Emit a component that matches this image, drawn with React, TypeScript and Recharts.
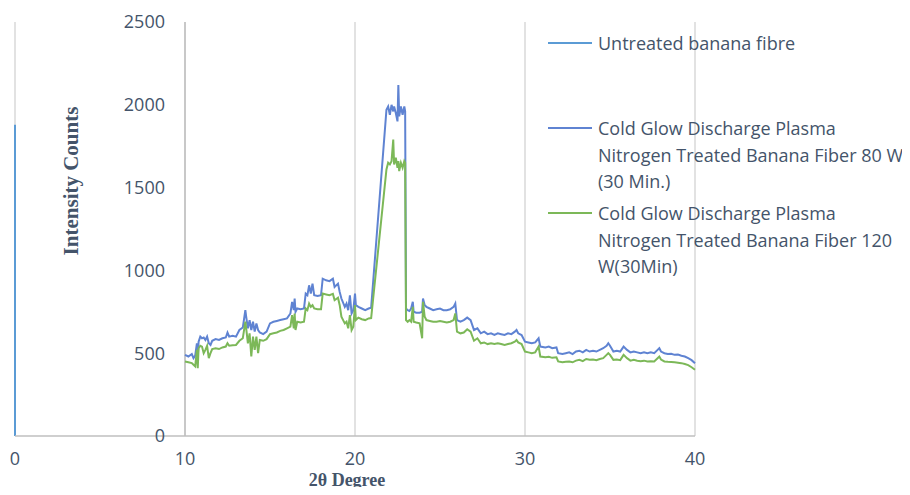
import { LineChart, Line, XAxis, YAxis, CartesianGrid, ReferenceLine } from "recharts";

// 2θ positions shared by the two treated scans
const twoTheta = [
  10.0, 10.2, 10.4, 10.5, 10.6, 10.7, 10.75, 10.8, 10.9, 11.0,
  11.1, 11.2, 11.3, 11.4, 11.5, 11.6, 11.8, 12.0, 12.2, 12.4,
  12.5, 12.6, 12.8, 13.0, 13.2, 13.4, 13.55, 13.6, 13.7, 13.8,
  13.9, 14.0, 14.1, 14.2, 14.3, 14.4, 14.6, 14.8, 15.0, 15.2,
  15.4, 15.6, 15.8, 16.0, 16.2, 16.3, 16.4, 16.45, 16.5, 16.6,
  16.8, 17.0, 17.1, 17.2, 17.3, 17.4, 17.5, 17.6, 17.8, 18.0,
  18.1, 18.3, 18.5, 18.7, 18.8, 19.0, 19.1, 19.2, 19.4, 19.5,
  19.6, 19.7, 19.8, 19.9, 20.0, 20.05, 20.2, 20.4, 20.6, 20.8,
  20.95, 21.85, 21.95, 22.05, 22.15, 22.25, 22.3, 22.4, 22.5, 22.55,
  22.6, 22.7, 22.8, 22.9, 22.95, 23.0, 23.1, 23.2, 23.3, 23.4,
  23.45, 23.6, 23.8, 23.95, 24.0, 24.1, 24.2, 24.4, 24.6, 24.8,
  25.0, 25.2, 25.4, 25.6, 25.8, 25.9, 26.0, 26.2, 26.4, 26.6,
  26.8, 27.0, 27.2, 27.4, 27.6, 27.8, 28.0, 28.2, 28.4, 28.6,
  28.8, 29.0, 29.2, 29.4, 29.5, 29.6, 29.8, 30.0, 30.2, 30.4,
  30.6, 30.8, 30.9, 31.2, 31.4, 31.6, 31.85, 31.95, 32.2, 32.4,
  32.6, 32.8, 33.0, 33.2, 33.4, 33.6, 33.8, 34.0, 34.2, 34.4,
  34.6, 34.8, 34.9, 35.0, 35.2, 35.4, 35.6, 35.8, 36.0, 36.2,
  36.4, 36.6, 36.8, 37.0, 37.2, 37.4, 37.6, 37.8, 37.9, 38.0,
  38.2, 38.4, 38.6, 38.8, 39.0, 39.2, 39.4, 39.6, 39.8, 40.0,
];

const intensity80W = [
  490, 480, 495, 470, 485, 560, 480, 570, 600, 590,
  595, 580, 600, 560, 550, 575, 585, 580, 590, 595,
  625, 600, 605, 600, 640, 655, 760, 720, 650, 700,
  640, 690, 630, 680, 640, 625, 615, 630, 680, 690,
  695, 700, 705, 710, 740, 810, 760, 830, 750, 770,
  765, 770, 860, 850, 910, 860, 920, 850, 845, 850,
  950, 940, 935, 950, 900, 920, 870, 830, 780, 800,
  760, 850, 740, 760, 860, 790, 780, 770, 760, 770,
  775, 1970, 1990, 1940, 2000, 1960, 1990, 1950, 1900, 2120,
  1930, 1990, 1940, 1990, 1960, 770, 760, 755, 770, 810,
  750, 745, 745, 750, 830, 790, 780, 770, 760, 765,
  770, 760, 760, 765, 780, 800, 700, 690, 700, 715,
  700, 640, 650, 620, 630, 615, 620, 610, 620, 615,
  610, 620, 615, 630, 640, 620, 610, 570, 565, 560,
  565, 590, 540, 535, 540, 530, 535, 500, 495, 500,
  505, 495, 510, 515, 505, 520, 510, 515, 510, 520,
  530, 545, 560, 545, 510, 515, 510, 540, 520, 505,
  510, 505, 500, 505, 500, 505, 500, 520, 530, 510,
  500, 495, 497, 490, 492, 485, 480, 470, 458, 440,
];

const intensity120W = [
  450, 445, 440, 430, 420, 520, 410, 530, 545, 540,
  500, 520, 545, 470, 500, 525, 530, 525, 535, 540,
  560, 545, 548, 550, 575, 590, 690, 650, 560, 620,
  480, 600, 520, 600, 500, 580, 575, 585, 615, 620,
  625, 635, 640, 650, 660, 730, 650, 740, 640, 690,
  685, 690, 770, 760, 800, 780, 790, 770, 765, 765,
  860, 855, 850, 858, 820, 835, 790, 720, 680, 690,
  650, 730, 640, 660, 790, 700, 715, 705, 700, 710,
  712, 1610, 1650, 1640, 1660, 1790, 1640, 1680, 1620, 1660,
  1600, 1650, 1620, 1660, 1650, 700, 690, 700, 690, 780,
  690, 685, 680, 590, 810, 720, 700, 695, 690, 690,
  695, 690, 685, 690, 700, 740, 630, 620, 625, 645,
  630, 575, 590, 560, 565, 555, 560, 555, 560, 555,
  550, 555, 560, 570, 580, 565, 555, 510, 505, 500,
  505, 540, 480, 475, 478, 472, 475, 450, 445, 448,
  450, 445, 455, 460, 452, 465, 460, 462, 458, 465,
  470, 490, 500, 490, 460, 462, 458, 490, 470, 455,
  460, 455, 452, 455, 450, 452, 450, 470, 480, 462,
  450, 448, 447, 445, 443, 440, 435, 428, 415, 400,
];

// the untreated scan collapses onto 2θ = 0 in the source chart
const untreatedTheta = [0, 0];
const untreatedIntensity = [1880, 0];

const xTicks = [0, 10, 20, 30, 40];
const yTicks = [0, 500, 1000, 1500, 2000, 2500];

const series = [
  { name: "Untreated banana fibre", lines: ["Untreated banana fibre"], color: "#5b9bd5" },
  {
    name: "Cold Glow Discharge Plasma Nitrogen Treated Banana Fiber 80 W (30 Min.)",
    lines: ["Cold Glow Discharge Plasma", "Nitrogen Treated Banana Fiber 80 W", "(30 Min.)"],
    color: "#5f83d2",
  },
  {
    name: "Cold Glow Discharge Plasma Nitrogen Treated Banana Fiber 120 W(30Min)",
    lines: ["Cold Glow Discharge Plasma", "Nitrogen Treated Banana Fiber 120", "W(30Min)"],
    color: "#7cb858",
  },
];

const untreatedData = untreatedTheta.map((x, i) => ({ x, y: untreatedIntensity[i] }));
const data80 = twoTheta.map((x, i) => ({ x, y: intensity80W[i] }));
const data120 = twoTheta.map((x, i) => ({ x, y: intensity120W[i] }));

const textColor = "#44546a";
const sans = "'Open Sans', sans-serif";
const serif = "'Liberation Serif', 'Times New Roman', serif";

const legendTops = [43, 128, 213];

function YTick(props: any) {
  const { y, payload } = props;
  return (
    <text x={165} y={y} textAnchor="end" dy="0.35em" fill={textColor} fontSize={18} fontFamily={sans}>
      {payload.value}
    </text>
  );
}

export default function App() {
  return (
    <div style={{ margin: -8, position: "relative", width: 910, height: 495, background: "#fff" }}>
      <LineChart width={910} height={495} margin={{ top: 22, right: 215, bottom: 0, left: 5 }}>
        <CartesianGrid horizontal={false} stroke="#d9d9d9" strokeWidth={1.5} />
        <XAxis
          type="number"
          dataKey="x"
          domain={[0, 40]}
          ticks={xTicks}
          height={59}
          axisLine={{ stroke: "#bfbfbf", strokeWidth: 1.5 }}
          tickLine={false}
          tickMargin={10}
          tick={{ fill: textColor, fontSize: 18, fontFamily: sans }}
        />
        <YAxis
          type="number"
          domain={[0, 2500]}
          ticks={yTicks}
          width={10}
          axisLine={false}
          tickLine={false}
          tick={<YTick />}
        />
        <ReferenceLine x={10} stroke="#bfbfbf" strokeWidth={1.5} />
        <Line data={untreatedData} dataKey="y" name={series[0].name} stroke={series[0].color} strokeWidth={2} dot={false} isAnimationActive={false} />
        <Line data={data80} dataKey="y" name={series[1].name} stroke={series[1].color} strokeWidth={2} dot={false} isAnimationActive={false} />
        <Line data={data120} dataKey="y" name={series[2].name} stroke={series[2].color} strokeWidth={2} dot={false} isAnimationActive={false} />
      </LineChart>

      <svg width={910} height={495} style={{ position: "absolute", left: 0, top: 0, pointerEvents: "none" }}>
        <text x={347} y={486} textAnchor="middle" fill={textColor} fontSize={18} fontWeight="bold" fontFamily={serif}>
          2θ Degree
        </text>
        <text
          x={71}
          y={181}
          transform="rotate(-90 71 181)"
          textAnchor="middle"
          dy="0.35em"
          fill={textColor}
          fontSize={21}
          fontWeight="bold"
          fontFamily={serif}
        >
          Intensity Counts
        </text>
      </svg>

      {series.map((s, i) => (
        <div key={s.name} style={{ position: "absolute", left: 548, top: legendTops[i] - 13, display: "flex" }}>
          <div style={{ width: 44, height: 2, marginTop: 12, background: s.color }} />
          <div style={{ marginLeft: 6, fontFamily: sans, fontSize: 18, lineHeight: "26.5px", color: textColor, whiteSpace: "nowrap" }}>
            {s.lines.map((l) => (
              <div key={l}>{l}</div>
            ))}
          </div>
        </div>
      ))}
    </div>
  );
}
